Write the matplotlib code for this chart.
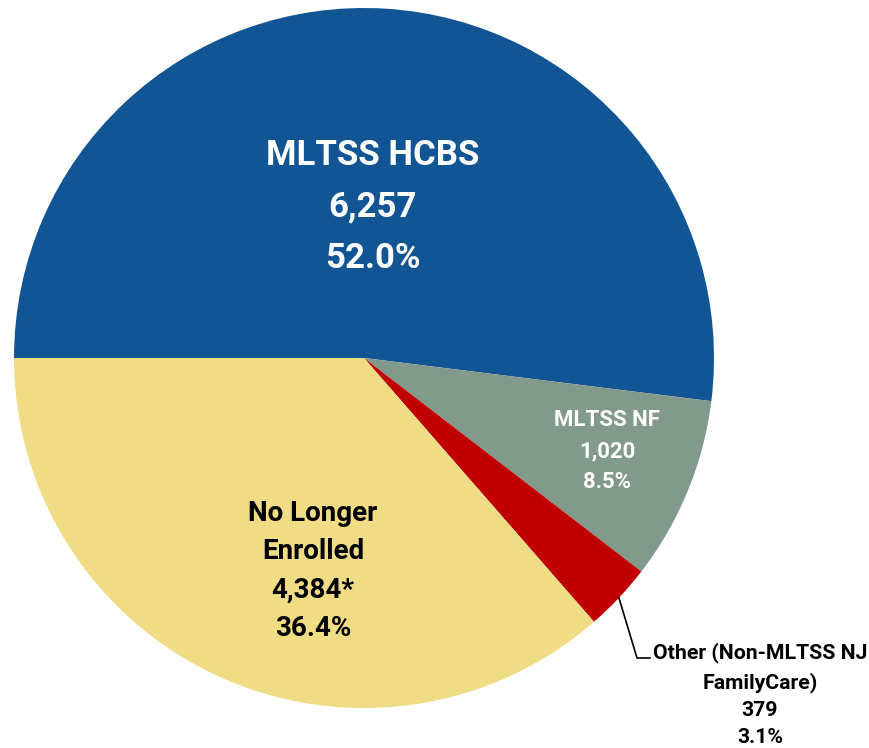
import matplotlib.pyplot as plt
import numpy as np

plt.rcParams['font.family'] = ['Roboto', 'DejaVu Sans']

categories = ["MLTSS HCBS", "MLTSS NF", "Other (Non-MLTSS NJ\nFamilyCare)", "No Longer\nEnrolled"]
counts = [6257, 1020, 379, 4384]
count_labels = ["6,257", "1,020", "379", "4,384*"]
percents = [52.0, 8.5, 3.1, 36.4]
colors = ["#115594", "#819A8B", "#C00000", "#F0DC84"]

W, H = 870, 748
cx, cy, R = 364, 358, 350

fig = plt.figure(figsize=(W / 100, H / 100), dpi=100)
ax = fig.add_axes([(cx - R) / W, (H - cy - R) / H, 2 * R / W, 2 * R / H])
wedges, _ = ax.pie(counts, colors=colors, startangle=180, counterclock=False,
                   radius=1, wedgeprops=dict(linewidth=0))
ax.set_xlim(-1, 1)
ax.set_ylim(-1, 1)
ax.axis("off")


def px(x, y):
    return (x - cx) / R, (cy - y) / R


def label(i):
    return f"{categories[i]}\n{count_labels[i]}\n{percents[i]:.1f}%"


ax.text(*px(373, 207), label(0), color="white", fontsize=25, fontweight="bold",
        ha="center", va="center", linespacing=1.7)
ax.text(*px(607, 451), label(1), color="white", fontsize=16, fontweight="bold",
        ha="center", va="center", linespacing=1.54)
ax.text(*px(313, 571), label(3), color="black", fontsize=20, fontweight="bold",
        ha="center", va="center", linespacing=1.53)

# leader line for the small slice
w = wedges[2]
mid = np.deg2rad((w.theta1 + w.theta2) / 2)
x0, y0 = np.cos(mid), np.sin(mid)
xb, yb = px(637, 658)
xe, ye = px(650, 658)
ax.plot([x0, xb, xe], [y0, yb, ye], color="black", lw=1.2, clip_on=False)
ax.text(*px(760, 695), label(2), color="black", fontsize=15.3, fontweight="bold",
        ha="center", va="center", linespacing=1.55)

fig.savefig("out.png", dpi=100)
